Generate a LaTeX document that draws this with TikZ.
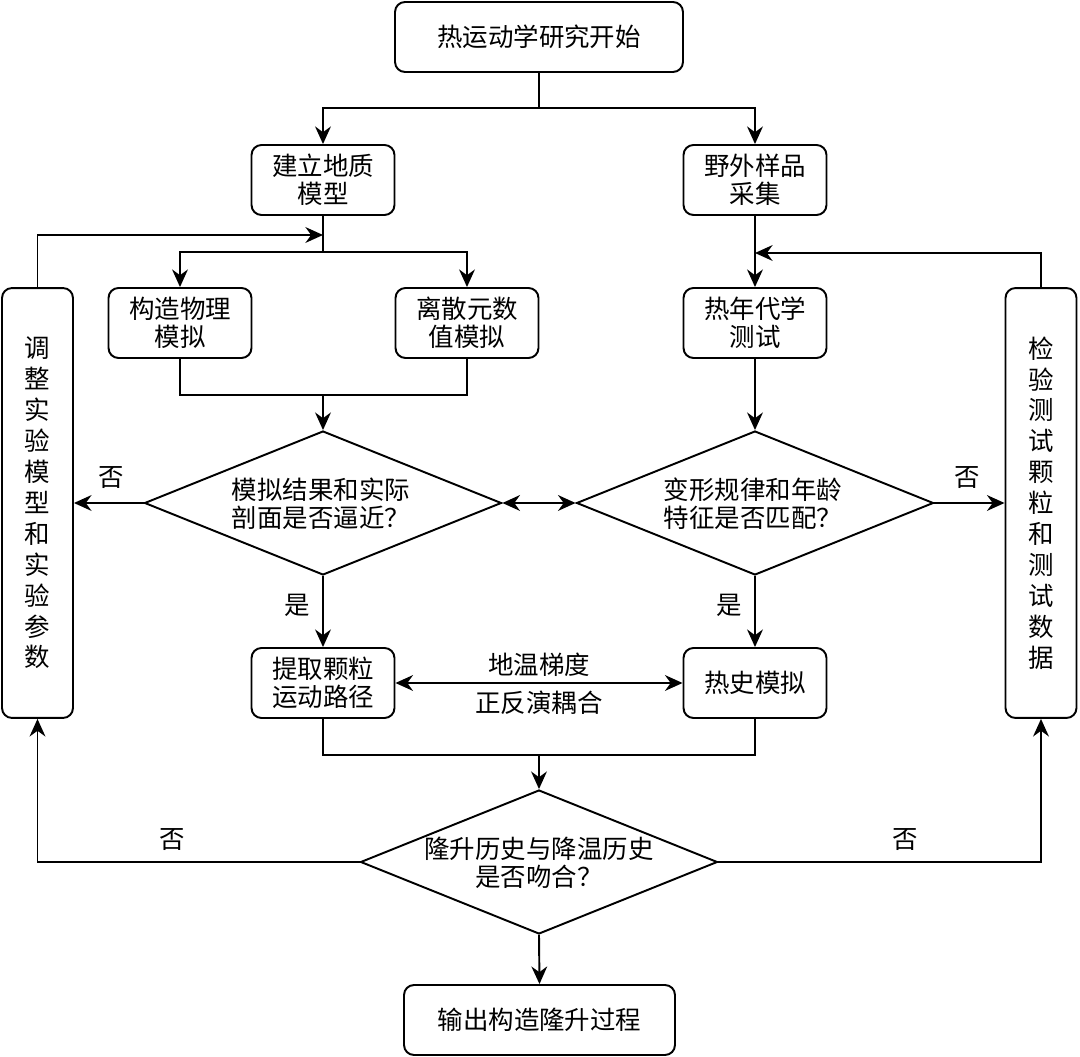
\documentclass[tikz,border=0pt]{standalone}
\usepackage{fontspec}
\setmainfont{Noto Sans CJK SC}
\usetikzlibrary{shapes.geometric,arrows.meta}
\begin{document}
\begin{tikzpicture}[x=0.02cm,y=-0.02cm,
  every node/.style={font=\fontsize{14.5}{16}\selectfont},
  box/.style={draw,rounded corners=0.2cm,line width=1.1pt,minimum width=2.86cm,minimum height=1.4cm,align=center,inner sep=1pt},
  tall/.style={draw,rounded corners=0.2cm,line width=1.1pt,minimum width=1.42cm,minimum height=8.6cm,align=center,font=\fontsize{14.5}{17.6}\selectfont},
  dia/.style={draw,diamond,aspect=2.48,line width=1.1pt,minimum width=7.14cm,minimum height=2.88cm,inner sep=0pt},
  arr/.style={line width=1.1pt,-{Stealth[length=10pt,width=9pt]}},
  ln/.style={line width=1.1pt},
  dbl/.style={line width=1.1pt,{Stealth[length=10pt,width=9pt]}-{Stealth[length=10pt,width=9pt]}},
  lbl/.style={font=\fontsize{14.5}{16}\selectfont}
]
\useasboundingbox (0,0) rectangle (1080,1057);

\node[box,minimum width=5.76cm] (start) at (539,37) {热运动学研究开始};
\node[box] (geo) at (323,180) {建立地质\\模型};
\node[box] (field) at (755,180) {野外样品\\采集};
\node[box] (phys) at (180,323) {构造物理\\模拟};
\node[box] (dem) at (467,323) {离散元数\\值模拟};
\node[box] (thermo) at (755,323) {热年代学\\测试};
\node[tall] (adj) at (37.5,503) {调\\整\\实\\验\\模\\型\\和\\实\\验\\参\\数};
\node[tall] (chk) at (1041,503) {检\\验\\测\\试\\颗\\粒\\和\\测\\试\\数\\据};
\node[dia] (d1) at (323,503) {};
\node[align=left] (q1) at (321,504) {模拟结果和实际\\剖面是否逼近？};
\node[dia] (d2) at (755,503) {};
\node[align=left] (q2) at (753,504) {变形规律和年龄\\特征是否匹配？};
\node[box] (ext) at (323,683) {提取颗粒\\运动路径};
\node[box] (hist) at (755,683) {热史模拟};
\node[dia] (d3) at (539,862) {};
\node[align=center] (q3) at (539,863) {隆升历史与降温历史\\是否吻合？};
\node[box,minimum width=5.42cm] (endn) at (539.5,1020) {输出构造隆升过程};

% top split
\coordinate (s1) at (539,108);
\draw[ln] (start.south) -- (s1);
\draw[arr] (s1) -| (geo.north);
\draw[arr] (s1) -| (field.north);

% geo split
\coordinate (s2) at (323,252);
\draw[ln] (geo.south) -- (s2);
\draw[arr] (s2) -| (phys.north);
\draw[arr] (s2) -| (dem.north);

% left feedback
\coordinate (fbL) at (323,235);
\draw[arr] (adj.north) |- (fbL);

% join phys/dem
\coordinate (s3) at (323,395);
\draw[ln] (phys.south) -- (phys.south |- s3) -| (dem.south);
\draw[arr] (s3) -- (d1.north);

% field to thermo
\draw[arr] (field.south) -- (thermo.north);
\coordinate (fbR) at (755,253);
\draw[arr] (chk.north) |- (fbR);
\draw[arr] (thermo.south) -- (d2.north);

% diamonds row
\draw[arr] (d1.west) -- (d1.west -| adj.east);
\node[lbl] (n1) at (111,478) {否};
\draw[dbl] (d1.east) -- (d2.west);
\draw[arr] (d2.east) -- (d2.east -| chk.west);
\node[lbl] (n2) at (967,478) {否};

\draw[arr] (d1.south) -- (ext.north);
\node[lbl] (y1) at (297,605) {是};
\draw[arr] (d2.south) -- (hist.north);
\node[lbl] (y2) at (729,605) {是};

\draw[dbl] (ext.east) -- (hist.west);
\node[lbl] (t1) at (539,665) {地温梯度};
\node[lbl] (t2) at (539,703) {正反演耦合};

% join to d3
\coordinate (s4) at (539,755);
\draw[ln] (ext.south) -- (ext.south |- s4) -| (hist.south);
\draw[arr] (s4) -- (d3.north);

\draw[arr] (d3.west) -| (adj.south);
\node[lbl] (n3) at (172,840) {否};
\draw[arr] (d3.east) -| (chk.south);
\node[lbl] (n4) at (905,840) {否};

\draw[arr] (d3.south) -- (endn.north);
\end{tikzpicture}
\end{document}
